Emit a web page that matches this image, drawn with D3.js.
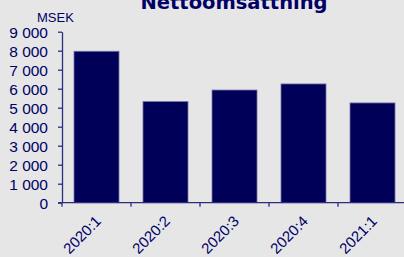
<!DOCTYPE html>
<html>
<head>
<meta charset="utf-8">
<script src="https://cdn.jsdelivr.net/npm/d3@7"></script>
<style>
  body { margin: 0; background: #e6e6e6; }
  svg { display: block; font-family: "Liberation Sans", Arial, sans-serif; }
</style>
</head>
<body>
<div id="chart"></div>
<script>
// chart data
const periods = ["2020:1", "2020:2", "2020:3", "2020:4", "2021:1"];
const sales = [7970, 5320, 5930, 6250, 5250];
const yTicks = [0, 1000, 2000, 3000, 4000, 5000, 6000, 7000, 8000, 9000];

const width = 404, height = 257;
const navy = "#000066";

const svg = d3.select("#chart").append("svg")
  .attr("width", width)
  .attr("height", height);

svg.append("rect").attr("width", width).attr("height", height).attr("fill", "#e6e6e6");

const x = d3.scaleBand()
  .domain(periods)
  .range([62, 407])
  .paddingInner(0.348)
  .paddingOuter(0.174);

const y = d3.scaleLinear()
  .domain([0, 9000])
  .range([202.7, 31.7]);

// bars
svg.append("g").selectAll("rect")
  .data(sales)
  .join("rect")
  .attr("x", (d, i) => x(periods[i]))
  .attr("y", d => y(d))
  .attr("width", x.bandwidth())
  .attr("height", d => y(0) - y(d))
  .attr("fill", "#000058")
  .attr("stroke", "#6f6fa6")
  .attr("stroke-width", 0.8);

// y axis
const fmt = d => d3.format(",")(d).replace(/,/g, " ");
const yAxis = svg.append("g")
  .attr("transform", "translate(62,0)")
  .call(d3.axisLeft(y).tickValues(yTicks).tickFormat(fmt).tickSize(4).tickSizeOuter(0).tickPadding(10));
yAxis.select(".domain").attr("stroke", "#2e2e80").attr("stroke-width", 1.3);
yAxis.selectAll(".tick line").attr("stroke", "#2e2e80").attr("stroke-width", 1.3);
yAxis.selectAll("text").attr("fill", navy).style("font-size", "15.5px").attr("dy", "0.36em");

// x axis: baseline with ticks at band boundaries
const xg = svg.append("g");
xg.append("line")
  .attr("x1", 58).attr("x2", width)
  .attr("y1", y(0)).attr("y2", y(0))
  .attr("stroke", "#2e2e80").attr("stroke-width", 1.3);
xg.selectAll(".xt")
  .data(d3.range(periods.length + 1))
  .join("line")
  .attr("x1", i => x.range()[0] + i * x.step())
  .attr("x2", i => x.range()[0] + i * x.step())
  .attr("y1", y(0)).attr("y2", y(0) + 4)
  .attr("stroke", "#2e2e80").attr("stroke-width", 1.3);
xg.selectAll("text")
  .data(periods)
  .join("text")
  .attr("transform", d => `translate(${x(d) + x.bandwidth() / 2 + 5.5},${y(0) + 19.5}) rotate(-45)`)
  .attr("text-anchor", "end")
  .attr("fill", navy)
  .style("font-size", "15px")
  .text(d => d);

// unit label and title
svg.append("text")
  .attr("x", 37).attr("y", 22)
  .attr("fill", navy)
  .style("font-size", "13px")
  .text("MSEK");

svg.append("text")
  .attr("x", 234).attr("y", 9)
  .attr("text-anchor", "middle")
  .attr("fill", navy)
  .style("font-family", "'DejaVu Sans', sans-serif")
  .style("font-size", "19.5px")
  .style("font-weight", "bold")
  .text("Nettoomsättning");
</script>
</body>
</html>
